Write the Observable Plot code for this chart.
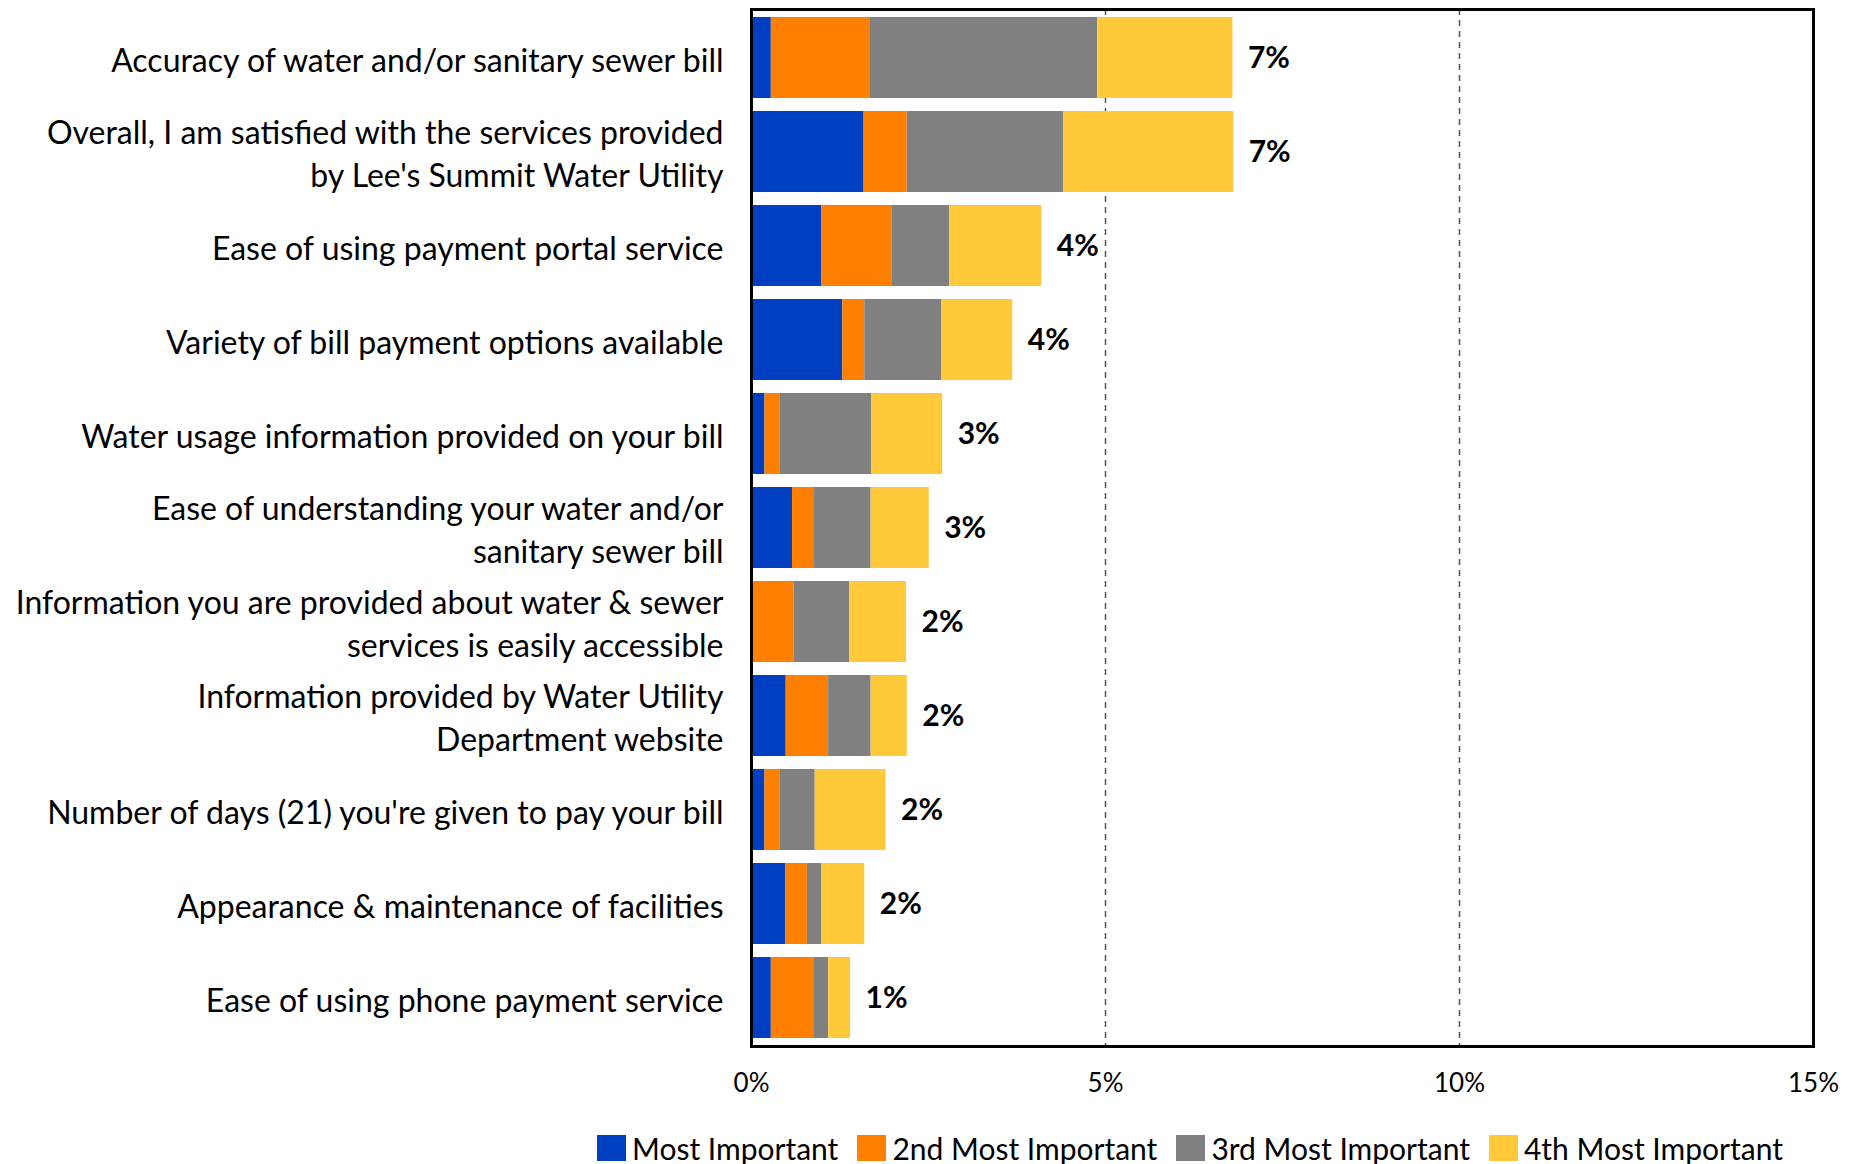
<!DOCTYPE html>
<html>
<head>
<meta charset="utf-8">
<script src="https://cdn.jsdelivr.net/npm/d3@7"></script>
<script src="https://cdn.jsdelivr.net/npm/@observablehq/plot@0.6"></script>
<style>
  html, body { margin: 0; padding: 0; background: #fff; }
  #chart { width: 1864px; }
  .legend { display: flex; justify-content: flex-start; align-items: center; padding-left: 597px; padding-top: 30px;
            font-family: Lato, "Open Sans", sans-serif; font-size: 30px; color: #000; }
  .legend .item { display: flex; align-items: center; margin-right: 19px; }
  .legend .sw { width: 29px; height: 26px; margin-right: 6px; }
</style>
</head>
<body>
<div id="chart"></div>
<script>
const categories = [
  "Accuracy of water and/or sanitary sewer bill",
  "Overall, I am satisfied with the services provided\nby Lee's Summit Water Utility",
  "Ease of using payment portal service",
  "Variety of bill payment options available",
  "Water usage information provided on your bill",
  "Ease of understanding your water and/or\nsanitary sewer bill",
  "Information you are provided about water & sewer\nservices is easily accessible",
  "Information provided by Water Utility\nDepartment website",
  "Number of days (21) you're given to pay your bill",
  "Appearance & maintenance of facilities",
  "Ease of using phone payment service"
];
const seriesNames = ["Most Important", "2nd Most Important", "3rd Most Important", "4th Most Important"];
const seriesColors = ["#0040C0", "#FF8000", "#808080", "#FFC93A"];
const mostImportant = [0.28, 1.59, 0.99, 1.29, 0.19, 0.58, 0.00, 0.49, 0.19, 0.48, 0.28];
const secondMost    = [1.40, 0.61, 1.00, 0.31, 0.21, 0.31, 0.60, 0.60, 0.21, 0.31, 0.61];
const thirdMost     = [3.21, 2.21, 0.81, 1.09, 1.30, 0.80, 0.79, 0.60, 0.50, 0.20, 0.20];
const fourthMost    = [1.91, 2.40, 1.30, 1.00, 1.00, 0.82, 0.80, 0.51, 1.00, 0.61, 0.31];
const xTicks = [0, 5, 10, 15];
const gridLines = [5, 10];

const seriesValues = [mostImportant, secondMost, thirdMost, fourthMost];
const rows = [];
seriesValues.forEach((vals, s) => {
  vals.forEach((v, i) => rows.push({category: categories[i], series: seriesNames[s], value: v}));
});
const totals = categories.map((c, i) => ({
  category: c,
  total: seriesValues.reduce((a, vals) => a + vals[i], 0)
}));

const plot = Plot.plot({
  width: 1864,
  height: 1100,
  marginTop: 9,
  marginLeft: 751,
  marginRight: 51,
  marginBottom: 54,
  style: {fontFamily: "Lato, 'Open Sans', sans-serif", color: "#000", background: "#fff"},
  x: {domain: [0, 15], ticks: xTicks, tickFormat: d => d + "%", label: null},
  y: {domain: categories, paddingInner: 0.14, paddingOuter: 0.07, label: null},
  color: {domain: seriesNames, range: seriesColors},
  marks: [
    Plot.ruleX(gridLines, {stroke: "#555", strokeWidth: 1.5, strokeDasharray: "6,5"}),
    Plot.barX(rows, Plot.stackX({x: "value", y: "category", fill: "series", order: seriesNames})),
    Plot.text(totals, {x: "total", y: "category", text: d => Math.round(d.total) + "%", textAnchor: "start", dx: 15,
      fontSize: 30, fontWeight: "bold", fill: "#000"}),
    Plot.axisX({ticks: xTicks, tickFormat: d => d + "%", tickSize: 0, tickPadding: 27, fontSize: 26, label: null}),
    Plot.axisY({tickSize: 0, tickPadding: 28, fontSize: 32, lineHeight: 1.34, label: null, textAnchor: "end"}),
    Plot.frame({stroke: "#000", strokeWidth: 3})
  ]
});
document.getElementById("chart").appendChild(plot);

const legend = d3.select("#chart").append("div").attr("class", "legend");
seriesNames.forEach((name, i) => {
  const item = legend.append("div").attr("class", "item");
  item.append("div").attr("class", "sw").style("background", seriesColors[i]);
  item.append("span").text(name);
});
</script>
</body>
</html>
